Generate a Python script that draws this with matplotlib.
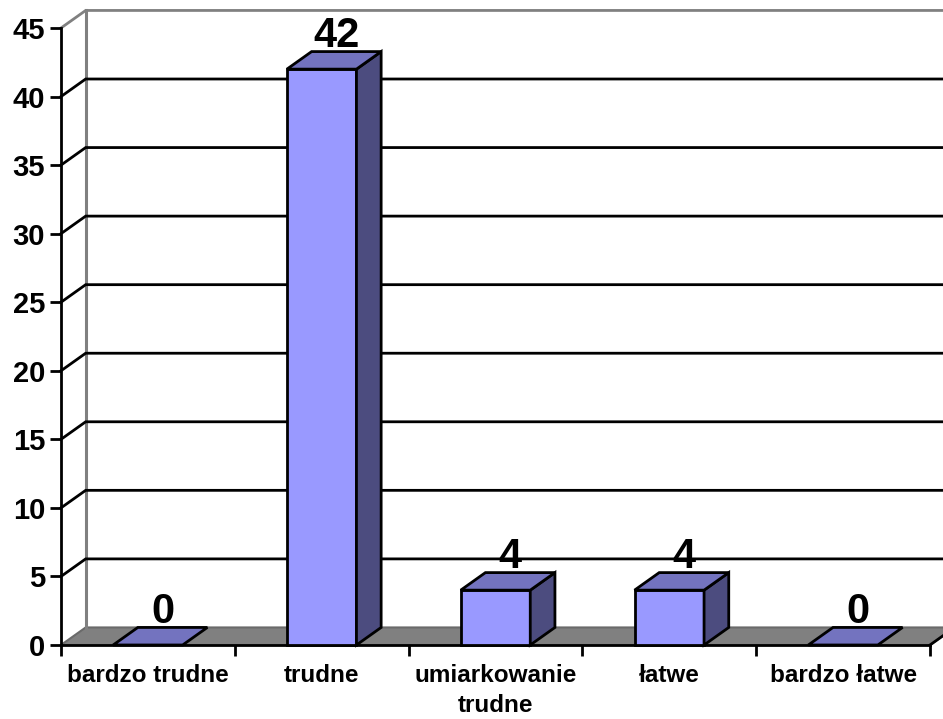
import matplotlib
matplotlib.use('Agg')
import matplotlib.pyplot as plt
from matplotlib.patches import Polygon

plt.rcParams['font.family'] = ['Liberation Sans', 'DejaVu Sans']
plt.rcParams['font.weight'] = 'bold'

# data
categories = ['bardzo trudne', 'trudne', 'umiarkowanie\ntrudne', 'łatwe', 'bardzo łatwe']
values = [0, 42, 4, 4, 0]
y_ticks = [0, 5, 10, 15, 20, 25, 30, 35, 40, 45]

# colours of the pseudo 3d chart
front_col = '#9999FF'
top_col = '#7373BF'
side_col = '#4C4C7F'
floor_col = '#808080'

# depth offset of the back wall (in data units)
dx = 0.142
dy = 1.28
bar_w = 0.40
n = len(categories)
ymax = y_ticks[-1]
lw = 2.0

fig = plt.figure(figsize=(9.43, 7.19), dpi=100)
ax = fig.add_axes([61 / 943, 74 / 719, 869 / 943, 617 / 719])
ax.set_xlim(0, n)
ax.set_ylim(0, ymax)

# floor
floor = Polygon([(0, 0), (n, 0), (n + dx, dy), (dx, dy)], closed=True,
                facecolor=floor_col, edgecolor='#6a6a6a', lw=1.5,
                clip_on=False, zorder=1)
ax.add_patch(floor)
ax.plot([n, n + dx], [0, dy], color='black', lw=lw, clip_on=False, zorder=2)

# left wall edge + gridlines on the walls
ax.plot([dx, dx], [dy, ymax + dy], color=floor_col, lw=2.2, clip_on=False, zorder=1)
for v in y_ticks[1:]:
    c = floor_col if v == ymax else 'black'
    ax.plot([0, dx, n + dx], [v, v + dy, v + dy], color=c, lw=lw,
            clip_on=False, zorder=1, solid_joinstyle='miter')

# bars
for i, v in enumerate(values):
    cx = i + 0.5
    x0 = cx - bar_w / 2
    x1 = cx + bar_w / 2
    if v > 0:
        ax.add_patch(Polygon([(x0, 0), (x1, 0), (x1, v), (x0, v)], closed=True,
                             facecolor=front_col, edgecolor='black', lw=lw,
                             zorder=4, clip_on=False))
        ax.add_patch(Polygon([(x1, 0), (x1 + dx, dy), (x1 + dx, v + dy), (x1, v)],
                             closed=True, facecolor=side_col, edgecolor='black',
                             lw=lw, zorder=4, clip_on=False))
    ax.add_patch(Polygon([(x0, v), (x1, v), (x1 + dx, v + dy), (x0 + dx, v + dy)],
                         closed=True, facecolor=top_col, edgecolor='black',
                         lw=lw, zorder=5, clip_on=False))
    ax.text(cx + dx * 0.6, v + dy + 0.3, str(v), ha='center', va='baseline',
            fontsize=30, fontweight='bold', zorder=6)

# axes
for s in ['top', 'right']:
    ax.spines[s].set_visible(False)
for s in ['left', 'bottom']:
    ax.spines[s].set_linewidth(lw)
    ax.spines[s].set_zorder(3)

ax.set_yticks(y_ticks)
ax.set_yticklabels([str(t) for t in y_ticks])
ax.tick_params(axis='y', direction='out', length=8, width=lw, pad=3.5,
               labelsize=21)

ax.set_xticks(range(n + 1))
ax.set_xticklabels([])
ax.set_xticks([i + 0.5 for i in range(n)], minor=True)
ax.set_xticklabels(categories, minor=True, fontsize=17.5, fontweight='bold',
                   linespacing=1.35)
ax.tick_params(axis='x', which='major', direction='out', length=8, width=lw)
ax.tick_params(axis='x', which='minor', length=0, pad=14)

fig.savefig('out.png', dpi=100)
